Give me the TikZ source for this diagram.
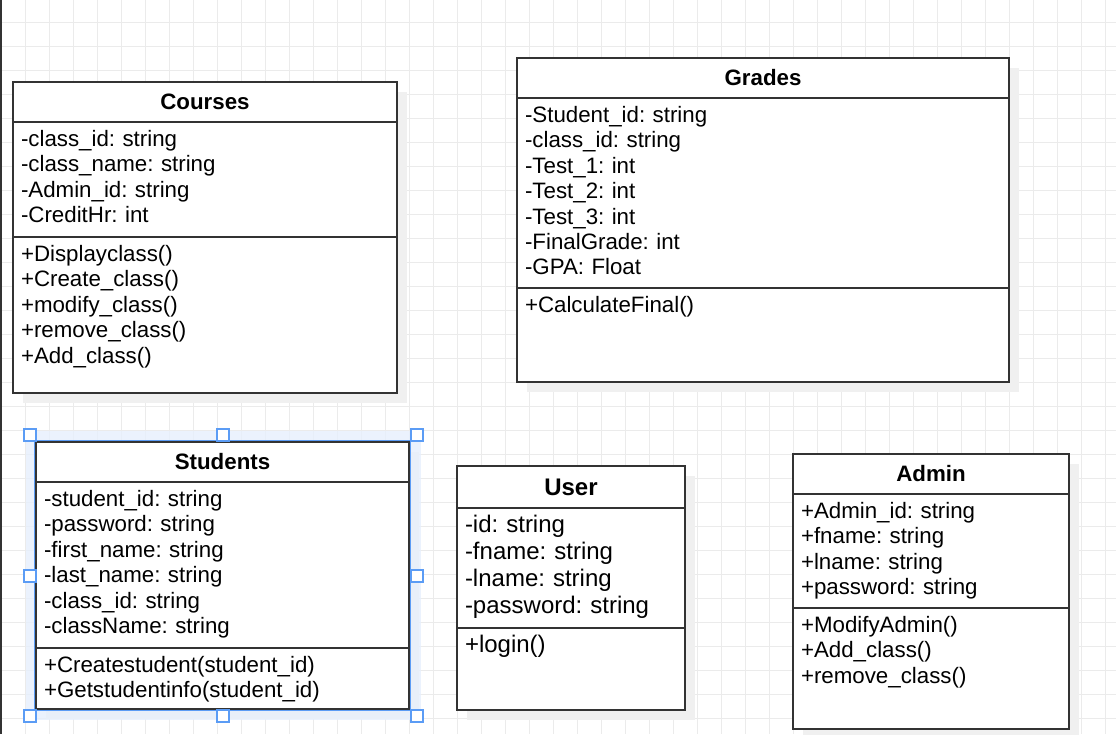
\documentclass[tikz,border=0pt]{standalone}
\usepackage{fontspec}
\setmainfont{Liberation Sans}
\frenchspacing
\usetikzlibrary{backgrounds}
\definecolor{frameGray}{HTML}{333333}
\definecolor{gridGray}{HTML}{EBEBEB}
\definecolor{shadowGray}{HTML}{F0F0F0}
\definecolor{selBlue}{HTML}{5B9CF5}
\definecolor{selFill}{HTML}{E6EFFC}
\tikzset{
    x=1pt, y=-1pt, % one unit is one pixel, y runs downwards
    every node/.style={outer sep=0pt}, % anchors sit on the border itself
}

\begin{document}
\begin{tikzpicture}[
                    styleTitle/.style={draw=frameGray, fill=white, line width=1.8pt, anchor=north west,
                                       inner sep=0pt, minimum height=40pt, font=\fontsize{22.3}{25.4}\selectfont\bfseries},
                    stylePart/.style={draw=frameGray, fill=white, line width=1.8pt, anchor=north west,
                                      inner xsep=8pt, inner ysep=0pt, align=left, text height=24.5pt,
                                      font=\fontsize{22.3}{25.4}\selectfont},
                    styleHandle/.style={draw=selBlue, fill=white, line width=1.4pt, minimum size=12pt, inner sep=0pt},
                    styleBig/.style={font=\fontsize{24}{27}\selectfont},
                ]
    \useasboundingbox (0,0) rectangle (1116,734);
    % Courses
    \node[styleTitle, minimum width=384pt] (coursesTitle) at (13,82) {Courses};
    \node[stylePart, text width=368pt, text depth=90.5pt] (coursesAttr) at (coursesTitle.south west)
        {-class\_id: string\\-class\_name: string\\-Admin\_id: string\\-CreditHr: int};
    \node[stylePart, text width=368pt, text depth=131.5pt] (coursesOps) at (coursesAttr.south west)
        {+Displayclass()\\+Create\_class()\\+modify\_class()\\+remove\_class()\\+Add\_class()};
    % Grades
    \node[styleTitle, minimum width=492pt] (gradesTitle) at (517,58) {Grades};
    \node[stylePart, text width=476pt, text depth=165.5pt] (gradesAttr) at (gradesTitle.south west)
        {-Student\_id: string\\-class\_id: string\\-Test\_1: int\\-Test\_2: int\\-Test\_3: int\\-FinalGrade: int\\-GPA: Float};
    \node[stylePart, text width=476pt, text depth=69.5pt] (gradesOps) at (gradesAttr.south west)
        {+CalculateFinal()};
    % Students
    \node[styleTitle, minimum width=373pt] (studentsTitle) at (36,442) {Students};
    \node[stylePart, text width=357pt, text depth=141.5pt] (studentsAttr) at (studentsTitle.south west)
        {-student\_id: string\\-password: string\\-first\_name: string\\-last\_name: string\\-class\_id: string\\-className: string};
    \node[stylePart, text width=357pt, text depth=36.5pt] (studentsOps) at (studentsAttr.south west)
        {+Createstudent(student\_id)\\+Getstudentinfo(student\_id)};
    % User
    \node[styleTitle, minimum width=228pt, minimum height=42pt, font=\fontsize{24}{27}\selectfont\bfseries] (userTitle) at (457,466) {User};
    \node[stylePart, styleBig, text width=212pt, text depth=95.5pt] (userAttr) at (userTitle.south west)
        {-id: string\\-fname: string\\-lname: string\\-password: string};
    \node[stylePart, styleBig, text width=212pt, text depth=57.5pt] (userOps) at (userAttr.south west)
        {+login()};
    % Admin
    \node[styleTitle, minimum width=276pt] (adminTitle) at (793,454) {Admin};
    \node[stylePart, text width=260pt, text depth=89.5pt] (adminAttr) at (adminTitle.south west)
        {+Admin\_id: string\\+fname: string\\+lname: string\\+password: string};
    \node[stylePart, text width=260pt, text depth=96.5pt] (adminOps) at (adminAttr.south west)
        {+ModifyAdmin()\\+Add\_class()\\+remove\_class()};

    % selection of Students
    \draw[selBlue, line width=1.2pt] ([shift={(-1.5,-1.5)}]studentsTitle.north west)
        rectangle ([shift={(1.5,1.5)}]studentsOps.south east);
    \foreach \hx/\hy/\hn in {30/435/nw, 223/435/n, 417/435/ne, 30/576/w, 417/576/e, 30/716/sw, 223/716/s, 417/716/se}
        \node[styleHandle] (handle\hn) at (\hx,\hy) {};

    \begin{scope}[on background layer]
        \foreach \gx in {0,...,46}
            \draw[gridGray, line width=1pt] (1.5+24*\gx,0) -- (1.5+24*\gx,734);
        \foreach \gy in {-1,...,30}
            \draw[gridGray, line width=1pt] (0,22.7+24*\gy) -- (1116,22.7+24*\gy);
        \fill[frameGray] (0,0) rectangle (2.3,734);
        \foreach \cls in {courses, grades, students, user, admin}
            \fill[shadowGray] ([shift={(10,10)}]\cls Title.north west) rectangle ([shift={(10,10)}]\cls Ops.south east);
        \fill[selFill, fill opacity=0.8] ([shift={(-10,-11)}]studentsTitle.north west)
            rectangle ([shift={(12,11)}]studentsOps.south east);
    \end{scope}
\end{tikzpicture}
\end{document}
